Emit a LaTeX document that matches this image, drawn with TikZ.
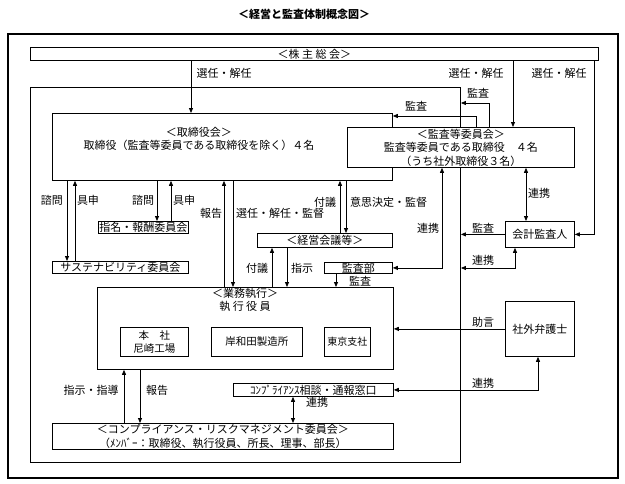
\documentclass[tikz,border=0pt]{standalone}
\usepackage{fontspec}
\setmainfont{Noto Sans CJK JP}
\usetikzlibrary{arrows.meta}

\begin{document}
\begin{tikzpicture}[x=1pt,y=-1pt,
        box/.style={draw, fill=white, line width=0.8pt, inner sep=0pt, anchor=north west, font=\fontsize{11}{13.5}\selectfont},
        txt/.style={inner sep=0pt, align=center, font=\fontsize{11}{13.5}\selectfont},
        >={Triangle[length=5pt,width=4pt]}]
        \useasboundingbox (0,0) rectangle (625,483);

        \node[txt, font=\fontsize{11}{13}\selectfont\bfseries] (title) at (304,14) {＜経営と監査体制概念図＞};

        % frames
        \node[draw, line width=2pt, minimum width=610, minimum height=444, anchor=north west] (outer) at (7,33) {};
        \node[draw, line width=0.9pt, minimum width=430, minimum height=375, anchor=north west] (inner) at (30,87) {};

        \node[box, minimum width=568, minimum height=13] (kabu) at (30,47) {＜株\ 主\ 総\ 会＞};
        \node[box, minimum width=340, minimum height=67] (tori) at (52,113) {};
        \node[txt] (toritxt) at (199,139) {＜取締役会＞\\取締役（監査等委員である取締役を除く）４名};

        \draw[->, line width=0.8pt] (kabu.south -| 191,0) -- (tori.north -| 191,0);
        \draw[->, line width=0.8pt] (kabu.south -| 513,0) -- (513,127);
        \node[txt] (l1) at (224,73) {選任・解任};
        \node[txt] (l2) at (476,73) {選任・解任};
        \node[txt] (l3) at (559,73) {選任・解任};

        \node[box, minimum width=227, minimum height=40, align=center] (kansa) at (347,127) {＜監査等委員会＞\\監査等委員である取締役　４名\\（うち社外取締役３名）};
        \node[box, minimum width=69, minimum height=26] (kaikei) at (505,221) {会計監査人};
        \node[box, minimum width=69, minimum height=55] (bengo) at (505,301) {社外弁護士};

        \draw[->, line width=0.8pt] (kabu.south -| 594,0) |- (kaikei.east);
        \draw[->, line width=0.8pt] (kansa.north -| 489,0) |- (inner.east |- 0,103);
        \draw[->, line width=0.8pt] (kansa.north -| 476,0) |- (tori.east |- 0,116);
        \node[txt] (l4) at (478,93) {監査};
        \node[txt] (l5) at (416,106) {監査};

        \node[box, minimum width=90, minimum height=12] (shimei) at (98,221) {指名・報酬委員会};
        \node[box, minimum width=136, minimum height=12] (sus) at (52,261) {サステナビリティ委員会};
        \node[box, minimum width=135, minimum height=14] (keiei) at (257,233) {＜経営会議等＞};
        \node[box, minimum width=68, minimum height=11] (kansabu) at (324,262) {監査部};

        \draw[->, line width=0.8pt] (tori.south -| 67,0) -- (sus.north -| 67,0);
        \draw[->, line width=0.8pt] (sus.north -| 75,0) -- (tori.south -| 75,0);
        \draw[->, line width=0.8pt] (tori.south -| 157,0) -- (shimei.north -| 157,0);
        \draw[->, line width=0.8pt] (shimei.north -| 171,0) -- (tori.south -| 171,0);
        \node[txt] (l6) at (52,200) {諮問};
        \node[txt] (l7) at (88,200) {具申};
        \node[txt] (l8) at (143,200) {諮問};
        \node[txt] (l9) at (184,200) {具申};

        % gyomu shikko
        \node[box, minimum width=296, minimum height=82] (gyomu) at (97,287) {};
        \node[txt] (gyomutxt) at (245,300) {＜業務執行＞\\執\ 行\ 役\ 員};
        \node[box, minimum width=68, minimum height=29, align=center, font=\fontsize{10.5}{12.5}\selectfont] (honsha) at (120,327) {本　社\\尼崎工場};
        \node[box, minimum width=91, minimum height=29, font=\fontsize{10.5}{12.5}\selectfont] (kishi) at (211,327) {岸和田製造所};
        \node[box, minimum width=46, minimum height=29, font=\fontsize{10}{12}\selectfont] (tokyo) at (324,327) {東京支社};

        \draw[->, line width=0.8pt] (gyomu.north -| 224,0) -- (tori.south -| 224,0);
        \draw[->, line width=0.8pt] (tori.south -| 233,0) -- (gyomu.north -| 233,0);
        \node[txt] (l10) at (211,213) {報告};
        \node[txt, anchor=west] (l11) at (236,213) {選任・解任・監督};

        \draw[->, line width=0.8pt] (keiei.north -| 340,0) -- (tori.south -| 340,0);
        \draw[->, line width=0.8pt] (tori.south -| 346,0) -- (keiei.north -| 346,0);
        \node[txt] (l12) at (325,202) {付議};
        \node[txt, anchor=west] (l13) at (350,202) {意思決定・監督};

        \draw[<->, line width=0.8pt] (kansabu.east) -| (kansa.south -| 442,0);
        \node[txt] (l14) at (428,228) {連携};

        \draw[->, line width=0.8pt] (gyomu.north -| 272,0) -- (keiei.south -| 272,0);
        \draw[->, line width=0.8pt] (keiei.south -| 287,0) -- (gyomu.north -| 287,0);
        \draw[->, line width=0.8pt] (kansabu.south -| 336,0) -- (gyomu.north -| 336,0);
        \node[txt] (l15) at (257,268) {付議};
        \node[txt] (l16) at (302,268) {指示};
        \node[txt] (l17) at (360,281) {監査};

        \draw[<->, line width=0.8pt] (kansa.south -| 526,0) -- (kaikei.north -| 526,0);
        \draw[->, line width=0.8pt] (kaikei.west) -- (inner.east |- kaikei.west);
        \draw[<->, line width=0.8pt] (kaikei.south -| 515,0) |- (inner.east |- 0,268);
        \node[txt] (l18) at (539,193) {連携};
        \node[txt] (l19) at (483,228) {監査};
        \node[txt] (l20) at (483,260) {連携};

        % compliance
        \node[box, minimum width=160, minimum height=13] (soudan) at (233,383) {ｺﾝﾌﾟﾗｲｱﾝｽ相談・通報窓口};
        \node[box, minimum width=341, minimum height=26, align=center] (iinkai) at (52,423) {＜コンプライアンス・リスクマネジメント委員会＞\\（ﾒﾝﾊﾞｰ：取締役、執行役員、所長、理事、部長）};

        \draw[->, line width=0.8pt] (bengo.west) -- (gyomu.east |- bengo.west);
        \draw[<->, line width=0.8pt] (bengo.south -| 538,0) |- (soudan.east);
        \node[txt] (l21) at (483,322) {助言};
        \node[txt] (l22) at (483,383) {連携};

        \draw[->, line width=0.8pt] (iinkai.north -| 124,0) -- (gyomu.south -| 124,0);
        \draw[->, line width=0.8pt] (gyomu.south -| 140,0) -- (iinkai.north -| 140,0);
        \draw[<->, line width=0.8pt] (soudan.south -| 293,0) -- (iinkai.north -| 293,0);
        \node[txt] (l23) at (91,390) {指示・指導};
        \node[txt] (l24) at (157,390) {報告};
        \node[txt] (l25) at (317,402) {連携};
\end{tikzpicture}
\end{document}
